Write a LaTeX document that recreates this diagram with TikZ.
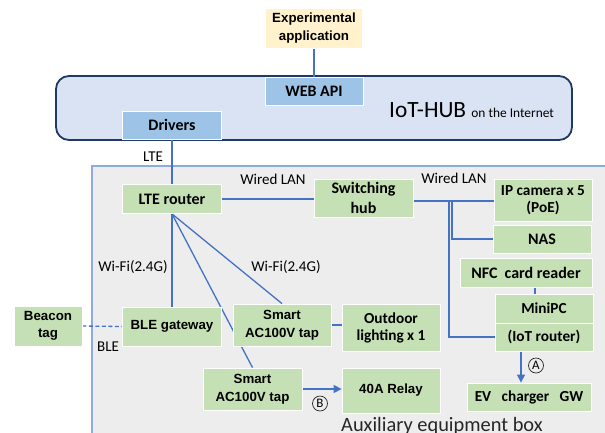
\documentclass[tikz,border=0pt]{standalone}
\usepackage{fontspec}
\setmainfont{Carlito}
\newfontfamily\arialfont{Liberation Sans}
\usetikzlibrary{arrows.meta}
\pgfdeclarelayer{back}
\pgfdeclarelayer{wires}
\pgfsetlayers{back,wires,main}
\definecolor{boxgreen}{HTML}{C5E0B4}
\definecolor{appyellow}{HTML}{FFF2CC}
\definecolor{apiblue}{HTML}{9DC3E6}
\definecolor{hubfill}{HTML}{DAE3F3}
\definecolor{hubline}{HTML}{203864}
\definecolor{auxfill}{HTML}{EDEDED}
\definecolor{auxline}{HTML}{8FAADC}
\definecolor{wireblue}{HTML}{4472C4}
\newcommand{\calb}{\fontsize{16}{19.5}\selectfont\bfseries}
\newcommand{\calbs}{\fontsize{15.3}{17}\selectfont\bfseries}
\newcommand{\arib}{\arialfont\fontsize{13.3}{17.5}\selectfont\bfseries}
\newcommand{\lbl}{\fontsize{15}{18}\selectfont}

\begin{document}
\begin{tikzpicture}[x=1pt,y=-1pt,
  unit/.style={draw=white, line width=0.8pt, fill=boxgreen, align=center, inner sep=0pt, font=\calb},
  arialunit/.style={unit, font=\arib},
  wire/.style={draw=wireblue, line width=1.3pt},
  tag/.style={font=\lbl, inner sep=0pt},
  circmark/.style={circle, draw=black!85, line width=0.7pt, minimum size=15pt, inner sep=0pt, font=\fontsize{13}{13}\selectfont}]
\useasboundingbox (0,0) rectangle (605,432);

% containers
\begin{pgfonlayer}{back}
\node[draw=hubline, line width=1.8pt, fill=hubfill, rounded corners=13pt,
  minimum width=516pt, minimum height=64pt] (hub) at (314,108) {};
\draw[draw=auxline, line width=1.5pt, fill=auxfill] (92,166) rectangle (650,470);
\end{pgfonlayer}

% IoT-HUB
\node[unit, fill=appyellow, font=\arib, minimum width=97pt, minimum height=40pt] (exp) at (314,28) {Experimental\\application};
\node[unit, fill=apiblue, minimum width=98pt, minimum height=28pt] (webapi) at (314,91) {WEB API};
\node[unit, fill=apiblue, minimum width=99pt, minimum height=28pt] (drivers) at (172,125) {Drivers};
\node[anchor=base west, inner sep=0pt, font=\fontsize{13.4}{15}\selectfont] (hubtitle) at (389,117)
  {{\fontsize{23.3}{26}\selectfont IoT-HUB }on the Internet};

% auxiliary equipment box
\node[unit, minimum width=99pt, minimum height=29pt] (lte) at (172,199) {LTE router};
\node[unit, minimum width=99pt, minimum height=38pt] (swhub) at (363.5,198) {Switching\\hub};
\node[unit, font=\calbs, minimum width=98pt, minimum height=42pt] (ipcam) at (543,200) {IP camera x 5\\(PoE)};
\node[unit, minimum width=98pt, minimum height=28pt] (nas) at (542,239) {NAS};
\node[unit, minimum width=132pt, minimum height=29pt] (nfc) at (526,272.5) {NFC\ \ card reader};
\node[unit, font=\calbs, minimum width=98pt, minimum height=29pt] (minipc) at (544,308.5) {MiniPC};
\node[unit, font=\calbs, minimum width=98pt, minimum height=28pt] (iotr) at (544,337) {(IoT router)};
\node[unit, font=\calbs, minimum width=124pt, minimum height=28pt] (ev) at (529,397) {EV\ \ \ charger\ \ \ GW};
\node[arialunit, minimum width=68pt, minimum height=40pt] (beacon) at (48,326) {Beacon\\tag};
\node[arialunit, minimum width=99pt, minimum height=39pt] (ble) at (172,326.5) {BLE gateway};
\node[arialunit, minimum width=98pt, minimum height=42pt] (tap1) at (282,325) {Smart\\AC100V tap};
\node[unit, font=\calbs, minimum width=98pt, minimum height=47pt] (outdoor) at (391,327.5) {Outdoor\\lighting x 1};
\node[arialunit, minimum width=99pt, minimum height=42pt] (tap2) at (252.5,389) {Smart\\AC100V tap};
\node[arialunit, minimum width=98pt, minimum height=45pt] (relay) at (391,390.5) {40A Relay};

% labels
\node[tag] (ltelbl) at (153,157) {LTE};
\node[tag] (lanlbl) at (273,179) {Wired LAN};
\node[tag] (hublanlbl) at (454,178) {Wired LAN};
\node[tag] (wifilbl) at (133,267) {Wi-Fi(2.4G)};
\node[tag] (tapwifilbl) at (286,267) {Wi-Fi(2.4G)};
\node[tag] (blelbl) at (108,347) {BLE};
\node[circmark] (markA) at (536,365.5) {A};
\node[circmark] (markB) at (320,403.5) {B};
\node[anchor=base west, inner sep=0pt, font=\fontsize{20.4}{24}\selectfont, text=black!85] (auxlbl) at (341,431) {Auxiliary equipment box};

% connectors
\coordinate (j1) at (449,201);
\coordinate (j2) at (452,201);
\begin{pgfonlayer}{wires}
\draw[wire] (exp) -- (webapi);
\draw[wire] (drivers) -- (lte);
\draw[wire] (lte.east) -- (lte.east -| swhub.west);
\draw[wire] (swhub.east |- j1) -- (j1 -| ipcam.west);
\draw[wire] (j2) |- (nas.west);
\draw[wire] (j1) |- (iotr.west);
\draw[wire] ([xshift=9pt]nfc.south) -- ([xshift=-9pt]minipc.north);
\draw[wire, -{Triangle[length=8pt,width=8pt]}] ([xshift=-23pt]iotr.south) -- ([xshift=-8pt]ev.north);
\draw[wire] (lte.south) -- (ble.north);
\draw[wire] (lte.south) -- (tap1.north);
\draw[wire] (lte.south) -- (tap2.north);
\draw[wire, dash pattern=on 4pt off 2.5pt] (beacon.east) -- (ble.west);
\draw[wire] (tap1.east) -- (tap1.east -| outdoor.west);
\draw[wire, -{Triangle[length=8pt,width=8pt]}] (tap2.east) -- (tap2.east -| relay.west);
\end{pgfonlayer}
\end{tikzpicture}
\end{document}
